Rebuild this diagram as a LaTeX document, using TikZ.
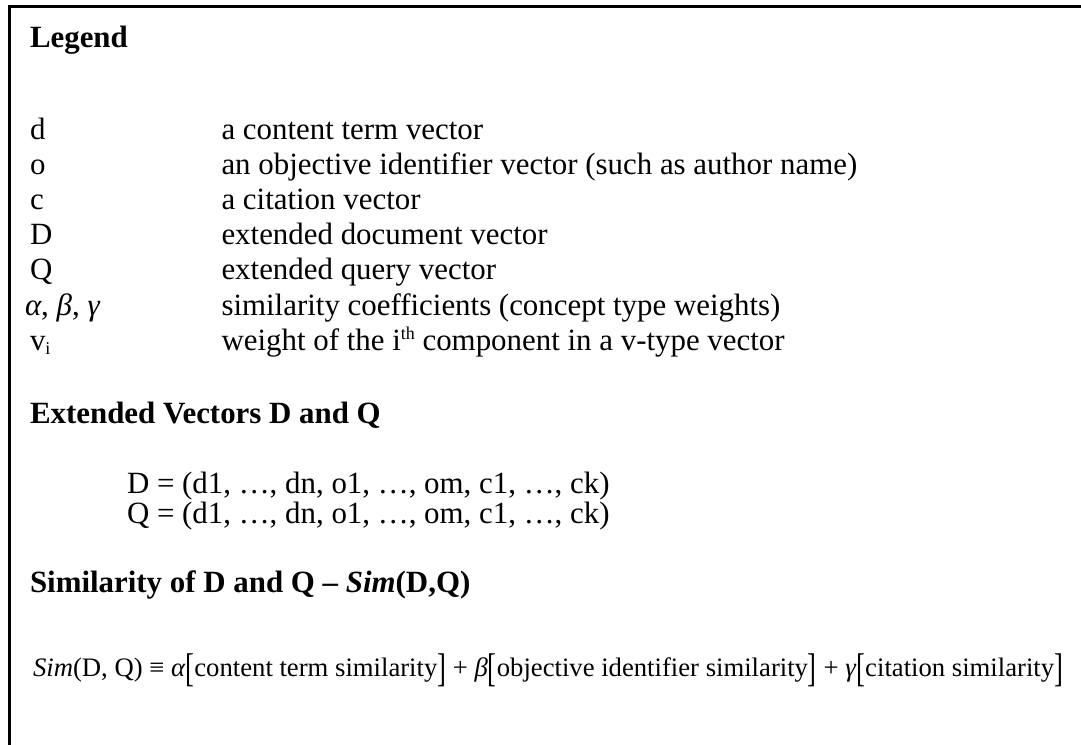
\documentclass[tikz,border=0pt]{standalone}
\usepackage{fontspec}
\setmainfont{Liberation Serif}
\usepackage{graphicx}
\newcommand\bodyfnt{\fontsize{30.9pt}{36pt}\selectfont}
\newcommand\eqfnt{\fontsize{25.3pt}{30pt}\selectfont}
\newcommand\supfnt{\fontsize{18pt}{18pt}\selectfont}
% tall square brackets of the similarity formula
\newcommand\tallbkt[1]{\raisebox{-0.2em}{\scalebox{1}[1.5]{#1}}}
\begin{document}
\begin{tikzpicture}[x=1pt,y=-1pt,
  txt/.style={anchor=base west, inner sep=0pt, outer sep=0pt, font=\bodyfnt},
  hd/.style={txt, font=\bodyfnt\bfseries},
  frame/.style={line width=2.7pt, draw=black}]
\useasboundingbox (0,0) rectangle (1081,744);
\clip (0,0) rectangle (1081,744);
\draw[frame] (9.5,6.5) rectangle (1100,770);

% legend
\node[hd] (legend) at (30,47) {Legend};
\node[txt] (kd) at (30,139) {d};
\node[txt] (vd) at (221.5,139) {a content term vector};
\node[txt] (ko) at (30,174.2) {o};
\node[txt] (vo) at (221.5,174.2) {an objective identifier vector (such as author name)};
\node[txt] (kc) at (30,209.4) {c};
\node[txt] (vc) at (221.5,209.4) {a citation vector};
\node[txt] (kD) at (30,244.6) {D};
\node[txt] (vD) at (221.5,244.6) {extended document vector};
\node[txt] (kQ) at (30,279.8) {Q};
\node[txt] (vQ) at (221.5,279.8) {extended query vector};
\node[txt] (kg) at (25,315) {\textit{α}, \textit{β}, \textit{γ}};
\node[txt] (vg) at (221.5,315) {similarity coefficients (concept type weights)};
\node[txt] (kv) at (30,350.2) {v\raisebox{-0.14em}{\supfnt i}};
\node[txt] (vv) at (221.5,350.2) {weight of the i\raisebox{0.36em}{\supfnt th} component in a v-type vector};

% extended vectors
\node[hd] (ext) at (30,423) {Extended Vectors D and Q};
\node[txt] (eD) at (127,493) {D = (d1, …, dn, o1, …, om, c1, …, ck)};
\node[txt] (eQ) at (127,523) {Q = (d1, …, dn, o1, …, om, c1, …, ck)};

% similarity
\node[hd] (simh) at (30,592) {Similarity of D and Q – \textit{Sim}(D,Q)};
\node[txt] (simf) at (33,676) {\resizebox{1030pt}{!}{\eqfnt\textit{Sim}(D, Q) ≡ \textit{α}\tallbkt{[}content term similarity\tallbkt{]} + \textit{β}\tallbkt{[}objective identifier similarity\tallbkt{]} + \textit{γ}\tallbkt{[}citation similarity\tallbkt{]}}};
\end{tikzpicture}
\end{document}
